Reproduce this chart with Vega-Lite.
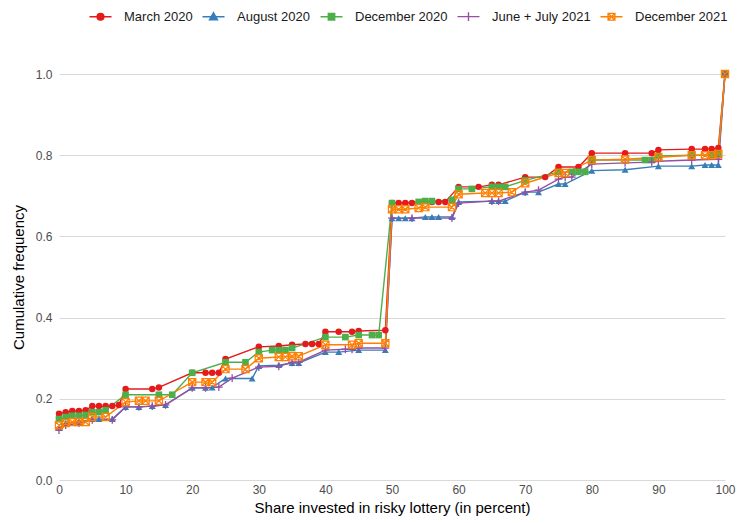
{
  "$schema": "https://vega.github.io/schema/vega-lite/v6.json",
  "autosize": {"type": "none"},
  "padding": {"left": 59, "top": 74, "right": 20, "bottom": 43},
  "width": 666,
  "height": 406,
  "background": "white",
  "config": {
    "font": "Liberation Sans",
    "view": {"stroke": null},
    "axis": {"domain": false, "ticks": false, "labelFlush": false, "labelFontSize": 12, "labelColor": "#4D4D4D", "titleFontSize": 15, "titleFontWeight": "normal", "titleColor": "#000000"},
    "legend": {"symbolOpacity": 1}
  },
  "data": {"values": [
    {"series":"March 2020","x":0,"y":0.163},{"series":"March 2020","x":1,"y":0.167},{"series":"March 2020","x":2,"y":0.17},{"series":"March 2020","x":3,"y":0.17},{"series":"March 2020","x":4,"y":0.172},{"series":"March 2020","x":5,"y":0.182},{"series":"March 2020","x":6,"y":0.182},{"series":"March 2020","x":7,"y":0.182},{"series":"March 2020","x":8,"y":0.182},{"series":"March 2020","x":9,"y":0.185},{"series":"March 2020","x":10,"y":0.224},{"series":"March 2020","x":14,"y":0.224},{"series":"March 2020","x":15,"y":0.228},{"series":"March 2020","x":20,"y":0.264},{"series":"March 2020","x":22,"y":0.264},{"series":"March 2020","x":23,"y":0.264},{"series":"March 2020","x":24,"y":0.264},{"series":"March 2020","x":25,"y":0.298},{"series":"March 2020","x":30,"y":0.328},{"series":"March 2020","x":33,"y":0.33},{"series":"March 2020","x":35,"y":0.333},{"series":"March 2020","x":37,"y":0.335},{"series":"March 2020","x":38,"y":0.335},{"series":"March 2020","x":39,"y":0.335},{"series":"March 2020","x":40,"y":0.365},{"series":"March 2020","x":42,"y":0.365},{"series":"March 2020","x":44,"y":0.365},{"series":"March 2020","x":45,"y":0.367},{"series":"March 2020","x":49,"y":0.369},{"series":"March 2020","x":50,"y":0.682},{"series":"March 2020","x":51,"y":0.682},{"series":"March 2020","x":52,"y":0.682},{"series":"March 2020","x":53,"y":0.682},{"series":"March 2020","x":56,"y":0.685},{"series":"March 2020","x":57,"y":0.685},{"series":"March 2020","x":58,"y":0.685},{"series":"March 2020","x":60,"y":0.722},{"series":"March 2020","x":63,"y":0.722},{"series":"March 2020","x":65,"y":0.727},{"series":"March 2020","x":66,"y":0.727},{"series":"March 2020","x":70,"y":0.746},{"series":"March 2020","x":73,"y":0.746},{"series":"March 2020","x":75,"y":0.771},{"series":"March 2020","x":78,"y":0.771},{"series":"March 2020","x":80,"y":0.805},{"series":"March 2020","x":85,"y":0.805},{"series":"March 2020","x":89,"y":0.805},{"series":"March 2020","x":90,"y":0.813},{"series":"March 2020","x":95,"y":0.815},{"series":"March 2020","x":97,"y":0.815},{"series":"March 2020","x":98,"y":0.815},{"series":"March 2020","x":99,"y":0.818},{"series":"March 2020","x":100,"y":1.0},

    {"series":"August 2020","x":0,"y":0.128},{"series":"August 2020","x":1,"y":0.14},{"series":"August 2020","x":3,"y":0.143},{"series":"August 2020","x":5,"y":0.15},{"series":"August 2020","x":6,"y":0.15},{"series":"August 2020","x":8,"y":0.15},{"series":"August 2020","x":10,"y":0.18},{"series":"August 2020","x":12,"y":0.18},{"series":"August 2020","x":14,"y":0.182},{"series":"August 2020","x":16,"y":0.185},{"series":"August 2020","x":20,"y":0.227},{"series":"August 2020","x":22,"y":0.227},{"series":"August 2020","x":23,"y":0.228},{"series":"August 2020","x":25,"y":0.25},{"series":"August 2020","x":29,"y":0.25},{"series":"August 2020","x":30,"y":0.281},{"series":"August 2020","x":33,"y":0.283},{"series":"August 2020","x":35,"y":0.288},{"series":"August 2020","x":36,"y":0.288},{"series":"August 2020","x":40,"y":0.315},{"series":"August 2020","x":42,"y":0.315},{"series":"August 2020","x":45,"y":0.32},{"series":"August 2020","x":49,"y":0.32},{"series":"August 2020","x":50,"y":0.645},{"series":"August 2020","x":51,"y":0.645},{"series":"August 2020","x":52,"y":0.645},{"series":"August 2020","x":53,"y":0.645},{"series":"August 2020","x":55,"y":0.648},{"series":"August 2020","x":56,"y":0.648},{"series":"August 2020","x":57,"y":0.648},{"series":"August 2020","x":59,"y":0.648},{"series":"August 2020","x":60,"y":0.685},{"series":"August 2020","x":65,"y":0.687},{"series":"August 2020","x":66,"y":0.687},{"series":"August 2020","x":67,"y":0.687},{"series":"August 2020","x":70,"y":0.709},{"series":"August 2020","x":72,"y":0.709},{"series":"August 2020","x":75,"y":0.729},{"series":"August 2020","x":76,"y":0.729},{"series":"August 2020","x":80,"y":0.762},{"series":"August 2020","x":85,"y":0.764},{"series":"August 2020","x":90,"y":0.773},{"series":"August 2020","x":95,"y":0.773},{"series":"August 2020","x":97,"y":0.776},{"series":"August 2020","x":98,"y":0.776},{"series":"August 2020","x":99,"y":0.776},{"series":"August 2020","x":100,"y":1.0},

    {"series":"December 2020","x":0,"y":0.15},{"series":"December 2020","x":1,"y":0.155},{"series":"December 2020","x":2,"y":0.158},{"series":"December 2020","x":3,"y":0.158},{"series":"December 2020","x":4,"y":0.16},{"series":"December 2020","x":5,"y":0.167},{"series":"December 2020","x":6,"y":0.167},{"series":"December 2020","x":7,"y":0.172},{"series":"December 2020","x":10,"y":0.21},{"series":"December 2020","x":15,"y":0.21},{"series":"December 2020","x":17,"y":0.21},{"series":"December 2020","x":20,"y":0.264},{"series":"December 2020","x":25,"y":0.29},{"series":"December 2020","x":28,"y":0.29},{"series":"December 2020","x":30,"y":0.315},{"series":"December 2020","x":32,"y":0.32},{"series":"December 2020","x":33,"y":0.32},{"series":"December 2020","x":34,"y":0.32},{"series":"December 2020","x":35,"y":0.325},{"series":"December 2020","x":40,"y":0.352},{"series":"December 2020","x":43,"y":0.352},{"series":"December 2020","x":45,"y":0.357},{"series":"December 2020","x":47,"y":0.357},{"series":"December 2020","x":48,"y":0.357},{"series":"December 2020","x":50,"y":0.682},{"series":"December 2020","x":54,"y":0.685},{"series":"December 2020","x":55,"y":0.687},{"series":"December 2020","x":56,"y":0.687},{"series":"December 2020","x":59,"y":0.69},{"series":"December 2020","x":60,"y":0.717},{"series":"December 2020","x":62,"y":0.717},{"series":"December 2020","x":65,"y":0.722},{"series":"December 2020","x":66,"y":0.722},{"series":"December 2020","x":67,"y":0.722},{"series":"December 2020","x":70,"y":0.738},{"series":"December 2020","x":75,"y":0.759},{"series":"December 2020","x":77,"y":0.759},{"series":"December 2020","x":78,"y":0.759},{"series":"December 2020","x":79,"y":0.759},{"series":"December 2020","x":80,"y":0.788},{"series":"December 2020","x":88,"y":0.788},{"series":"December 2020","x":89,"y":0.788},{"series":"December 2020","x":90,"y":0.798},{"series":"December 2020","x":95,"y":0.8},{"series":"December 2020","x":98,"y":0.8},{"series":"December 2020","x":99,"y":0.803},{"series":"December 2020","x":100,"y":1.0},

    {"series":"June + July 2021","x":0,"y":0.123},{"series":"June + July 2021","x":1,"y":0.135},{"series":"June + July 2021","x":3,"y":0.14},{"series":"June + July 2021","x":5,"y":0.148},{"series":"June + July 2021","x":8,"y":0.148},{"series":"June + July 2021","x":10,"y":0.18},{"series":"June + July 2021","x":12,"y":0.18},{"series":"June + July 2021","x":14,"y":0.182},{"series":"June + July 2021","x":16,"y":0.185},{"series":"June + July 2021","x":20,"y":0.227},{"series":"June + July 2021","x":22,"y":0.227},{"series":"June + July 2021","x":24,"y":0.229},{"series":"June + July 2021","x":26,"y":0.251},{"series":"June + July 2021","x":30,"y":0.278},{"series":"June + July 2021","x":33,"y":0.28},{"series":"June + July 2021","x":35,"y":0.29},{"series":"June + July 2021","x":36,"y":0.29},{"series":"June + July 2021","x":40,"y":0.32},{"series":"June + July 2021","x":43,"y":0.322},{"series":"June + July 2021","x":44,"y":0.322},{"series":"June + July 2021","x":45,"y":0.325},{"series":"June + July 2021","x":49,"y":0.325},{"series":"June + July 2021","x":50,"y":0.645},{"series":"June + July 2021","x":53,"y":0.645},{"series":"June + July 2021","x":59,"y":0.645},{"series":"June + July 2021","x":60,"y":0.682},{"series":"June + July 2021","x":65,"y":0.687},{"series":"June + July 2021","x":66,"y":0.687},{"series":"June + July 2021","x":70,"y":0.709},{"series":"June + July 2021","x":72,"y":0.714},{"series":"June + July 2021","x":75,"y":0.741},{"series":"June + July 2021","x":76,"y":0.746},{"series":"June + July 2021","x":77,"y":0.746},{"series":"June + July 2021","x":80,"y":0.778},{"series":"June + July 2021","x":85,"y":0.781},{"series":"June + July 2021","x":89,"y":0.783},{"series":"June + July 2021","x":90,"y":0.785},{"series":"June + July 2021","x":95,"y":0.788},{"series":"June + July 2021","x":99,"y":0.79},{"series":"June + July 2021","x":100,"y":1.0},

    {"series":"December 2021","x":0,"y":0.135},{"series":"December 2021","x":1,"y":0.14},{"series":"December 2021","x":2,"y":0.143},{"series":"December 2021","x":3,"y":0.143},{"series":"December 2021","x":4,"y":0.143},{"series":"December 2021","x":5,"y":0.155},{"series":"December 2021","x":7,"y":0.155},{"series":"December 2021","x":10,"y":0.192},{"series":"December 2021","x":12,"y":0.195},{"series":"December 2021","x":13,"y":0.195},{"series":"December 2021","x":15,"y":0.195},{"series":"December 2021","x":20,"y":0.241},{"series":"December 2021","x":22,"y":0.241},{"series":"December 2021","x":23,"y":0.241},{"series":"December 2021","x":25,"y":0.273},{"series":"December 2021","x":28,"y":0.273},{"series":"December 2021","x":30,"y":0.3},{"series":"December 2021","x":33,"y":0.303},{"series":"December 2021","x":34,"y":0.303},{"series":"December 2021","x":35,"y":0.305},{"series":"December 2021","x":36,"y":0.305},{"series":"December 2021","x":40,"y":0.333},{"series":"December 2021","x":44,"y":0.333},{"series":"December 2021","x":45,"y":0.337},{"series":"December 2021","x":49,"y":0.337},{"series":"December 2021","x":50,"y":0.667},{"series":"December 2021","x":51,"y":0.667},{"series":"December 2021","x":52,"y":0.667},{"series":"December 2021","x":54,"y":0.67},{"series":"December 2021","x":55,"y":0.672},{"series":"December 2021","x":59,"y":0.672},{"series":"December 2021","x":60,"y":0.704},{"series":"December 2021","x":64,"y":0.707},{"series":"December 2021","x":65,"y":0.707},{"series":"December 2021","x":66,"y":0.707},{"series":"December 2021","x":68,"y":0.709},{"series":"December 2021","x":70,"y":0.731},{"series":"December 2021","x":75,"y":0.756},{"series":"December 2021","x":76,"y":0.756},{"series":"December 2021","x":80,"y":0.788},{"series":"December 2021","x":85,"y":0.79},{"series":"December 2021","x":90,"y":0.795},{"series":"December 2021","x":95,"y":0.8},{"series":"December 2021","x":97,"y":0.8},{"series":"December 2021","x":98,"y":0.8},{"series":"December 2021","x":99,"y":0.803},{"series":"December 2021","x":100,"y":1.0}
  ]},
  "encoding": {
    "x": {"field": "x", "type": "quantitative", "title": "Share invested in risky lottery (in percent)",
      "scale": {"domain": [0, 100], "nice": false, "zero": false},
      "axis": {"values": [0,10,20,30,40,50,60,70,80,90,100], "grid": false, "labelPadding": 4, "titlePadding": 5}},
    "y": {"field": "y", "type": "quantitative", "title": "Cumulative frequency",
      "scale": {"domain": [0, 1], "nice": false},
      "axis": {"values": [0,0.2,0.4,0.6,0.8,1.0], "format": ".1f", "grid": true, "gridColor": "#D9D9D9", "gridWidth": 1.2, "labelPadding": 7, "titlePadding": 9}}
  },
  "layer": [
    {"mark": {"type": "line", "strokeWidth": 1.4},
     "encoding": {"stroke": {"field": "series", "type": "nominal",
         "scale": {"domain": ["March 2020","August 2020","December 2020","June + July 2021","December 2021"], "range": ["#E41A1C","#377EB8","#4DAF4A","#984EA3","#FF7F00"]},
         "legend": {"title": null, "orient": "none", "direction": "horizontal", "legendX": 35, "legendY": -64, "labelFontSize": 13, "labelColor": "#1A1A1A", "symbolSize": 64, "symbolStrokeWidth": 1.4, "symbolOpacity": 1, "labelOffset": 17, "columnPadding": 6, "gridAlign": "each"}}}},
    {"transform": [{"filter": {"field": "series", "equal": "March 2020"}}],
     "mark": {"type": "point", "shape": "circle", "filled": true, "size": 42, "strokeWidth": 0, "opacity": 1, "color": "#E41A1C"}},
    {"transform": [{"filter": {"field": "series", "equal": "August 2020"}}],
     "mark": {"type": "point", "shape": "triangle-up", "filled": true, "size": 48, "strokeWidth": 0, "opacity": 1, "color": "#377EB8"}},
    {"transform": [{"filter": {"field": "series", "equal": "December 2020"}}],
     "mark": {"type": "point", "shape": "square", "filled": true, "size": 44, "strokeWidth": 0, "opacity": 1, "color": "#4DAF4A"}},
    {"transform": [{"filter": {"field": "series", "equal": "June + July 2021"}}],
     "mark": {"type": "point", "shape": "M0,-1V1M-1,0H1", "filled": false, "size": 60, "strokeWidth": 1.3, "opacity": 1, "color": "#984EA3"}},
    {"transform": [{"filter": {"field": "series", "equal": "December 2021"}}],
     "mark": {"type": "point", "shape": "M-1,-1H1V1H-1ZM-1,-1L1,1M1,-1L-1,1", "filled": false, "size": 52, "strokeWidth": 1.2, "opacity": 1, "color": "#FF7F00"}},
    {"mark": {"type": "point", "opacity": 0, "strokeWidth": 1.4},
     "encoding": {
       "shape": {"field": "series", "type": "nominal",
         "scale": {"domain": ["March 2020","August 2020","December 2020","June + July 2021","December 2021"],
           "range": ["M-2.75,0H2.75M-0.85,0A0.85,0.85,0,1,0,0.85,0A0.85,0.85,0,1,0,-0.85,0Z", "M-2.75,0H2.75M0,-1L1,0.75L-1,0.75Z", "M-2.75,0H2.75M-0.8,-0.8H0.8V0.8H-0.8Z", "M-2.75,0H2.75M0,-1.1V1.1M-1.1,0H1.1", "M-2.75,0H2.75M-0.85,-0.85H0.85V0.85H-0.85ZM-0.85,-0.85L0.85,0.85M0.85,-0.85L-0.85,0.85"]},
         "legend": {"title": null, "orient": "none", "direction": "horizontal", "legendX": 35, "legendY": -64, "labelFontSize": 13, "labelColor": "#1A1A1A", "symbolSize": 64, "symbolStrokeWidth": 1.4, "symbolOpacity": 1, "labelOffset": 17, "columnPadding": 6, "gridAlign": "each"}},
       "fill": {"field": "series", "type": "nominal",
         "scale": {"domain": ["March 2020","August 2020","December 2020","June + July 2021","December 2021"], "range": ["#E41A1C","#377EB8","#4DAF4A","transparent","transparent"]},
         "legend": {"title": null, "orient": "none", "direction": "horizontal", "legendX": 35, "legendY": -64, "labelFontSize": 13, "labelColor": "#1A1A1A", "symbolSize": 64, "symbolStrokeWidth": 1.4, "symbolOpacity": 1, "labelOffset": 17, "columnPadding": 6, "gridAlign": "each"}},
       "stroke": {"field": "series", "type": "nominal"}
     }}
  ]
}
